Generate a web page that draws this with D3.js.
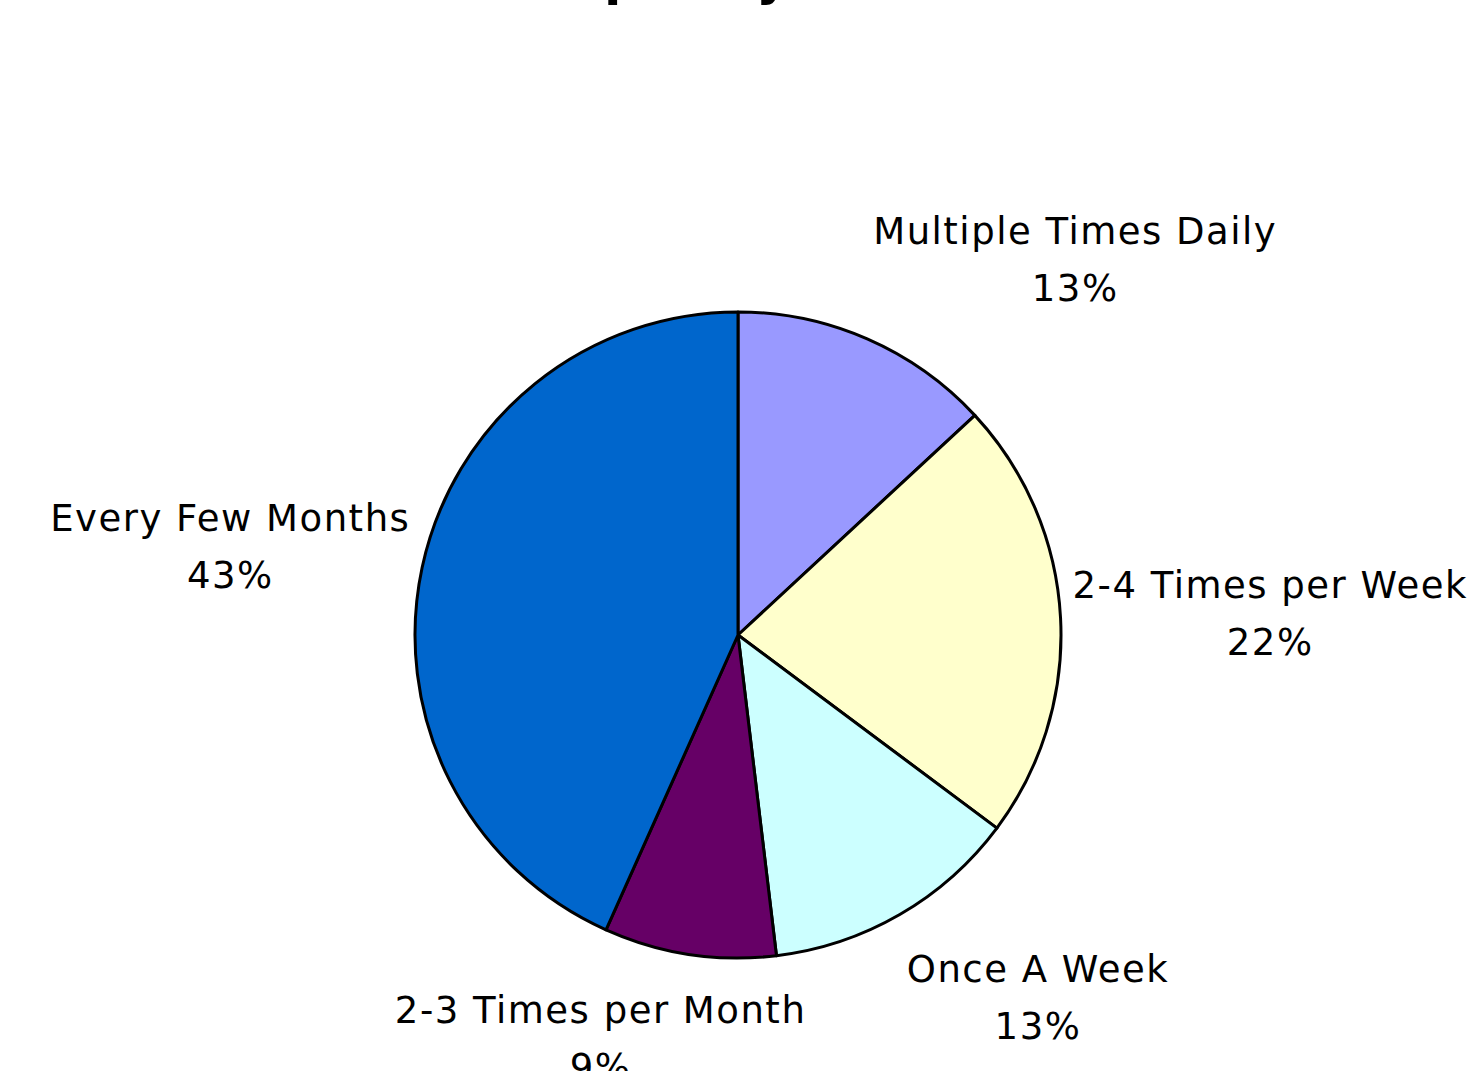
<!DOCTYPE html>
<html>
<head>
<meta charset="utf-8">
<script src="https://cdn.jsdelivr.net/npm/d3@7"></script>
<style>
  body { margin: 0; background: #fff; }
  svg { display: block; }
  .lbl { font-family: "DejaVu Sans", sans-serif; font-size: 37px; letter-spacing: 1.5px; fill: #000; }
  .title { font-family: "DejaVu Sans", sans-serif; font-size: 50px; font-weight: bold; fill: #000; }
</style>
</head>
<body>
<div id="chart"></div>
<script>
// share of answers (percent)
var categories = ["Multiple Times Daily", "2-4 Times per Week", "Once A Week", "2-3 Times per Month", "Every Few Months"];
var shares = [13.1, 22.1, 12.9, 8.6, 43.3];
var colors = ["#9999FF", "#FFFFCC", "#CCFFFF", "#660066", "#0066CC"];
var titleText = "Frequency of Use";

var width = 1470,
    height = 1071,
    cx = 738,
    cy = 635,
    radius = 323;

var total = d3.sum(shares);

var data = categories.map(function(c, i) {
  return { name: c, value: shares[i], color: colors[i] };
});

var svg = d3.select("#chart").append("svg")
    .attr("width", width)
    .attr("height", height);

// title sits mostly above the visible area
svg.append("text")
    .attr("class", "title")
    .attr("x", 740)
    .attr("y", -5)
    .attr("text-anchor", "middle")
    .text(titleText);

var pie = d3.pie()
    .sort(null)
    .value(function(d) { return d.value; });

var arc = d3.arc()
    .innerRadius(0)
    .outerRadius(radius);

var g = svg.append("g")
    .attr("transform", "translate(" + cx + "," + cy + ")");

var arcs = pie(data);

g.selectAll(".slice")
  .data(arcs)
  .enter().append("path")
    .attr("class", "slice")
    .attr("d", arc)
    .style("fill", function(d) { return d.data.color; })
    .style("stroke", "#000")
    .style("stroke-width", 3)
    .style("stroke-linejoin", "round");

// labels: two lines, box pushed outward from a point just past the rim
var lineGap = 57;
var labels = g.selectAll(".label")
  .data(arcs)
  .enter().append("text")
    .attr("class", "lbl")
    .attr("text-anchor", "middle");

labels.append("tspan")
    .attr("class", "l1")
    .text(function(d) { return d.data.name; });
labels.append("tspan")
    .attr("class", "l2")
    .text(function(d) { return Math.round(d.data.value / total * 100) + "%"; });

labels.each(function(d) {
  var t = d3.select(this);
  var w = 0;
  t.selectAll("tspan").each(function() { w = Math.max(w, this.getComputedTextLength()); });
  var a = (d.startAngle + d.endAngle) / 2;
  var r = radius + 10;
  var ax = r * Math.sin(a), ay = -r * Math.cos(a);
  var fx = Math.max(-1, Math.min(1, Math.sin(a) * 2.8));
  var fy = Math.max(-1, Math.min(1, -Math.cos(a) * 1.4));
  var x = ax + fx * (w / 2 + 2);
  var y = ay + fy * 72;
  t.select(".l1").attr("x", x).attr("y", y - lineGap / 2 + 15);
  t.select(".l2").attr("x", x).attr("y", y + lineGap / 2 + 15);
});
</script>
</body>
</html>
